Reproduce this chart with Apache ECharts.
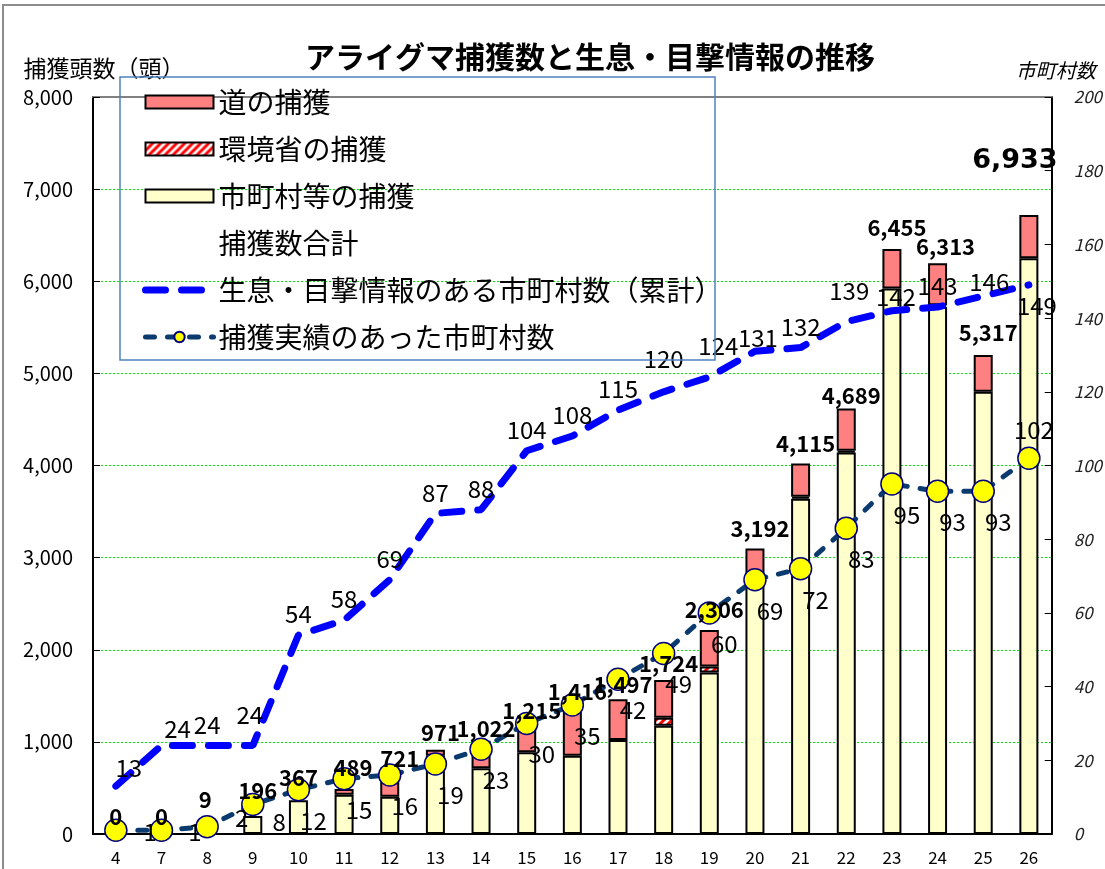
<!DOCTYPE html>
<html><head><meta charset="utf-8">
<script src="https://cdn.jsdelivr.net/npm/echarts@6/dist/echarts.min.js"></script>
<style>html,body{margin:0;padding:0;background:#fff}#c{width:1105px;height:869px}</style>
</head><body><div id="c"></div>
<script>
const categories = ['4','7','8','9','10','11','12','13','14','15','16','17','18','19','20','21','22','23','24','25','26'];
const municipalCatch   = [0,0,9,196,367,426,405,850,715,887,850,1020,1176,1752,2800,3640,4140,5920,5720,4800,6250];
const ministryCatch    = [0,0,0,0,0,0,0,0,0,0,0,0,87,65,0,20,20,0,20,0,0];
const prefectureCatch  = [0,0,0,0,0,63,316,65,297,242,496,443,409,398,300,362,460,430,455,400,470];
const totalCatch       = [0,0,9,196,367,489,721,971,1022,1215,1416,1497,1724,2306,3192,4115,4689,6455,6313,5317,6933];
const sightingMunicipalities = [13,24,24,24,54,58,69,87,88,104,108,115,120,124,131,132,139,142,143,146,149];
const captureMunicipalities  = [1,1,2,8,12,15,16,19,23,30,35,42,49,60,69,72,83,95,93,93,102];
const leftTicks = {min:0, max:8000, interval:1000};
const rightTicks = {min:0, max:200, interval:20};

const names = ['道の捕獲','環境省の捕獲','市町村等の捕獲','捕獲数合計','生息・目撃情報のある市町村数（累計）','捕獲実績のあった市町村数'];
const JP = '"Noto Sans CJK JP","Noto Sans",sans-serif';
const fmt = v => String(v).replace(/\B(?=(\d{3})+(?!\d))/g, ',');
const nz = arr => arr.map(v => v === 0 ? '-' : v);

// hatch pattern
const pc = document.createElement('canvas'); pc.width = 8; pc.height = 8;
const g = pc.getContext('2d');
g.fillStyle = '#fff'; g.fillRect(0,0,8,8);
g.strokeStyle = '#FF0000'; g.lineWidth = 3;
g.beginPath();
g.moveTo(-2,10); g.lineTo(10,-2);
g.moveTo(-6,6); g.lineTo(6,-6);
g.moveTo(2,14); g.lineTo(14,2);
g.stroke();

const blueOffsets = {0:[13,3],1:[16,4],3:[-3,-10],12:[0,-12],13:[9,-10],14:[3,8],16:[3,-10],17:[4,7],19:[6,7]};
const blueData = sightingMunicipalities.map((v,i) => {
  if (i === 20) return {value:v, label:{position:'bottom', offset:[8,0]}};
  if (blueOffsets[i]) return {value:v, label:{offset:blueOffsets[i]}};
  return v;
});
const navyRight = {0:[11,2],1:[10,2],2:[11,-9],3:[3,17]};
const navyData = captureMunicipalities.map((v,i) => {
  if (i === 20) return {value:v, label:{position:'top', offset:[5,0]}};
  if (navyRight[i]) return {value:v, label:{position:'right', offset:navyRight[i]}};
  return v;
});
const totalOffsets = {0:[0,-6],1:[0,-6],2:[-2,-22],3:[5,-14],4:[0,-11],5:[9,-10],6:[10,3],16:[5,5],18:[8,6]};
const totalData = totalCatch.map((v,i) => {
  if (i === 20) return {value:v, label:{fontSize:27, fontWeight:900, fontFamily:'"DejaVu Sans",sans-serif', offset:[-14,-20]}};
  if (totalOffsets[i]) return {value:v, label:{offset:totalOffsets[i]}};
  return v;
});

const legendData = names.map(n => {
  if (n === names[4]) return {name:n, lineStyle:{width:7}};
  if (n === names[5]) return {name:n, lineStyle:{width:5}};
  if (n === names[3]) return {name:n};
  return {name:n, icon:'rect'};
});

const chart = echarts.init(document.getElementById('c'));
chart.setOption({
  backgroundColor:'#fff',
  animation:false,
  textStyle:{fontFamily:JP},
  title:{text:'アライグマ捕獲数と生息・目撃情報の推移', left:300, top:37,
    textStyle:{fontSize:30, fontWeight:'bold', color:'#000', fontFamily:JP}},
  grid:{left:93, right:52, top:97, bottom:35},
  legend:{orient:'vertical', left:137, top:82, itemWidth:68, itemHeight:13, itemGap:17,
    textStyle:{fontSize:28, color:'#000', lineHeight:30, padding:[0,0,0,0], fontFamily:JP},
    data:legendData},
  graphic:[
    {type:'rect', silent:true, z:-1, shape:{x:3,y:5,width:1300,height:1000}, style:{fill:'none', stroke:'#8c8c8c', lineWidth:2}},
    {type:'rect', silent:true, z:100, shape:{x:120,y:77,width:595,height:283}, style:{fill:'none', stroke:'#4F81BD', lineWidth:1.5}}
  ],
  xAxis:[
    {type:'category', data:categories, position:'bottom',
     axisLine:{lineStyle:{color:'#000', width:2}},
     axisTick:{inside:true, length:6, lineStyle:{color:'#000'}},
     axisLabel:{fontSize:17, color:'#000', margin:15, fontFamily:JP}},
    {type:'category', data:categories, position:'top',
     axisLine:{show:true, onZero:false, lineStyle:{color:'#808080', width:2}},
     axisTick:{show:false}, axisLabel:{show:false}}
  ],
  yAxis:[
    {type:'value', min:leftTicks.min, max:leftTicks.max, interval:leftTicks.interval,
     name:'捕獲頭数（頭）', nameLocation:'end', nameGap:17,
     nameTextStyle:{fontSize:23, color:'#000', align:'center', padding:[0,0,0,22], fontFamily:JP},
     axisLine:{show:true, lineStyle:{color:'#000', width:2}},
     axisTick:{show:true, inside:true, length:7, lineStyle:{color:'#000'}},
     axisLabel:{fontSize:20, color:'#000', margin:20, formatter:v => fmt(v), fontFamily:JP},
     splitLine:{show:true, lineStyle:{color:'#00E600', type:[2,2], width:1}}},
    {type:'value', min:rightTicks.min, max:rightTicks.max, interval:rightTicks.interval, position:'right',
     name:'市町村数', nameLocation:'end', nameGap:17,
     nameTextStyle:{fontSize:20, color:'#000', fontStyle:'italic', align:'center', padding:[0,0,0,8], fontFamily:JP},
     axisLine:{show:true, lineStyle:{color:'#000', width:2}},
     axisTick:{show:true, inside:true, length:7, lineStyle:{color:'#000'}},
     axisLabel:{fontSize:17, color:'#222', fontStyle:'italic', margin:22, fontFamily:JP},
     splitLine:{show:false}}
  ],
  series:[
    {name:'市町村等の捕獲', type:'bar', stack:'c', barWidth:19, data:nz(municipalCatch),
     itemStyle:{color:'#FFFFCC', borderColor:'#000', borderWidth:2}},
    {name:'環境省の捕獲', type:'bar', stack:'c', barWidth:19, data:nz(ministryCatch),
     itemStyle:{color:{image:pc, repeat:'repeat'}, borderColor:'#000', borderWidth:2}},
    {name:'道の捕獲', type:'bar', stack:'c', barWidth:19, data:nz(prefectureCatch),
     itemStyle:{color:'#FF8080', borderColor:'#000', borderWidth:2}},
    {name:'生息・目撃情報のある市町村数（累計）', type:'line', yAxisIndex:1, z:3, data:blueData,
     symbol:'circle', symbolSize:2, itemStyle:{color:'rgba(0,0,255,0)'},
     lineStyle:{color:'#0000FF', width:7, type:[20,16], cap:'round'},
     label:{show:true, position:'top', distance:8, fontSize:24, color:'#000', fontFamily:JP}},
    {name:'捕獲実績のあった市町村数', type:'line', yAxisIndex:1, z:4, data:navyData,
     symbol:'circle', symbolSize:22,
     itemStyle:{color:'#FFFF00', borderColor:'#000080', borderWidth:1.5},
     lineStyle:{color:'#0B3B6E', width:5, type:[9,13], cap:'round'},
     label:{show:true, position:'bottom', offset:[15,2], fontSize:24, color:'#000', fontFamily:JP}},
    {name:'捕獲数合計', type:'line', yAxisIndex:0, z:6, data:totalData,
     symbol:'circle', symbolSize:1, itemStyle:{color:'rgba(0,0,0,0)'},
     lineStyle:{opacity:0},
     label:{show:true, position:'top', distance:0, offset:[5,0], fontSize:22, fontWeight:'bold', color:'#000',
       fontFamily:JP, formatter:p => fmt(p.value)}}
  ]
});
</script>
</body></html>
